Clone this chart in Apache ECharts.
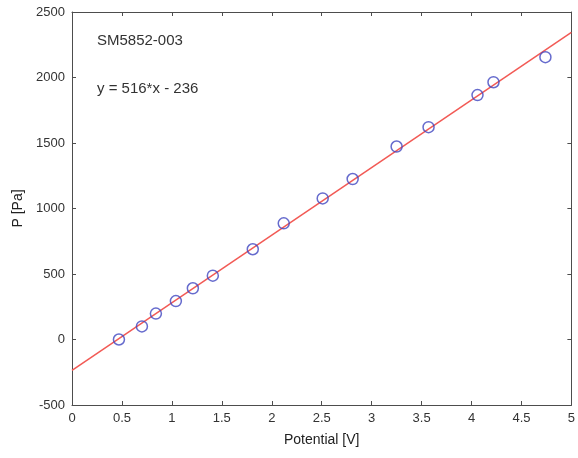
<!DOCTYPE html>
<html>
<head>
<meta charset="utf-8">
<script src="https://cdn.jsdelivr.net/npm/echarts@6/dist/echarts.min.js"></script>
<style>
  html, body { margin: 0; padding: 0; background: #fff; }
  #chart { width: 578px; height: 458px; }
</style>
</head>
<body>
<div id="chart"></div>
<script>
// measured points (potential V, pressure Pa)
var potential = [0.47, 0.70, 0.84, 1.04, 1.21, 1.41, 1.81, 2.12, 2.51, 2.81, 3.25, 3.57, 4.06, 4.22, 4.74];
var pressure = [0, 100, 198, 293, 391, 487, 689, 887, 1077, 1225, 1473, 1621, 1866, 1964, 2155];
// fitted line endpoints: y = 516*x - 236
var fitX = [0, 5];
var fitY = [-236, 2344];

var font = 'Liberation Sans, Arial, sans-serif';
var axisCol = '#4d4d4d';

var chart = echarts.init(document.getElementById('chart'));

function inTicks() {
    return { show: true, inside: true, length: 4, lineStyle: { color: axisCol, width: 1 } };
}
function plain(v) { return String(v); }

var option = {
    animation: false,
    grid: { left: 72, right: 6, top: 12, bottom: 53 },
    xAxis: [
        {
            type: 'value', position: 'bottom', min: 0, max: 5, interval: 0.5,
            name: 'Potential [V]', nameLocation: 'middle', nameGap: 28,
            nameTextStyle: { color: '#222', fontSize: 14, fontFamily: font },
            axisLine: { show: true, onZero: false, lineStyle: { color: axisCol } },
            axisTick: inTicks(),
            axisLabel: { color: '#333', fontSize: 13, fontFamily: font, margin: 7, formatter: plain },
            splitLine: { show: false }
        },
        {
            type: 'value', position: 'top', min: 0, max: 5, interval: 0.5,
            axisLine: { show: true, onZero: false, lineStyle: { color: axisCol } },
            axisTick: inTicks(),
            axisLabel: { show: false },
            splitLine: { show: false }
        }
    ],
    yAxis: [
        {
            type: 'value', position: 'left', min: -500, max: 2500, interval: 500,
            name: 'P [Pa]', nameLocation: 'middle', nameGap: 41,
            nameTextStyle: { color: '#222', fontSize: 14, fontFamily: font },
            axisLine: { show: true, onZero: false, lineStyle: { color: axisCol } },
            axisTick: inTicks(),
            axisLabel: { color: '#333', fontSize: 13, fontFamily: font, margin: 7, formatter: plain },
            splitLine: { show: false }
        },
        {
            type: 'value', position: 'right', min: -500, max: 2500, interval: 500,
            axisLine: { show: true, onZero: false, lineStyle: { color: axisCol } },
            axisTick: inTicks(),
            axisLabel: { show: false },
            splitLine: { show: false }
        }
    ],
    graphic: [
        {
            type: 'text', left: 97, top: 33,
            style: { text: 'SM5852-003', fill: '#333', font: '15px ' + font }
        },
        {
            type: 'text', left: 97, top: 81,
            style: { text: 'y = 516*x - 236', fill: '#333', font: '15px ' + font }
        }
    ],
    series: [
        {
            type: 'line',
            data: fitX.map(function (x, i) { return [x, fitY[i]]; }),
            showSymbol: false,
            lineStyle: { color: '#f25a55', width: 1.5 },
            z: 2
        },
        {
            type: 'scatter',
            data: potential.map(function (x, i) { return [x, pressure[i]]; }),
            symbol: 'circle',
            symbolSize: 11,
            itemStyle: { color: 'rgba(0,0,0,0)', borderColor: '#4046c0', borderWidth: 1.5 },
            z: 3
        },
        {
            // empty series so the top/right axes get drawn
            type: 'scatter', xAxisIndex: 1, yAxisIndex: 1, data: [], silent: true
        }
    ]
};

chart.setOption(option);
</script>
</body>
</html>
